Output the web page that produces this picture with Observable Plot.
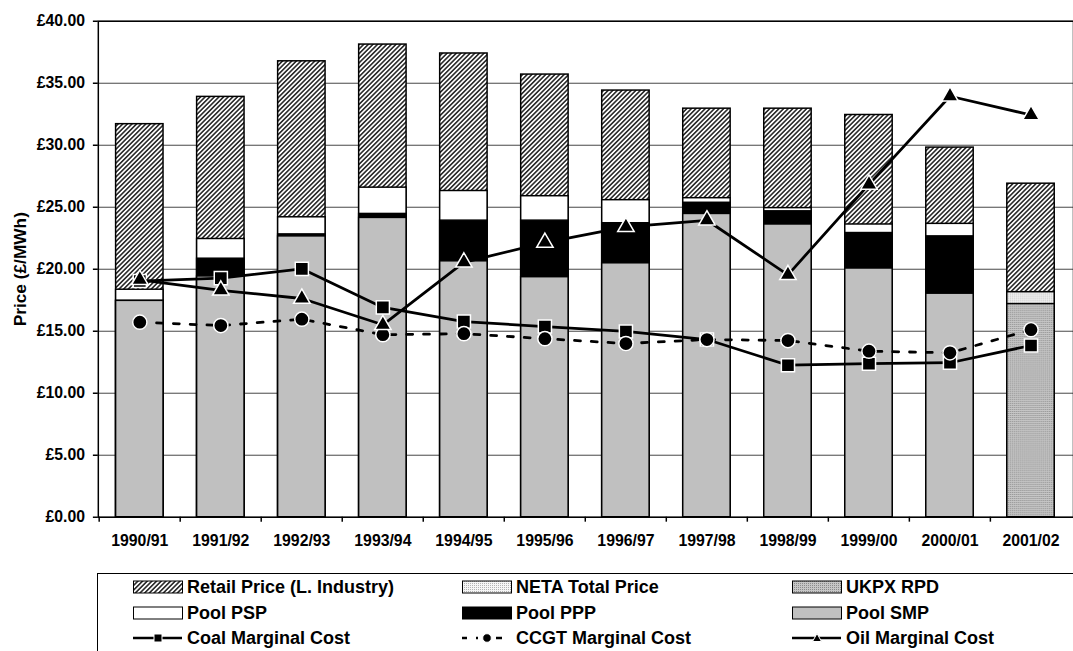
<!DOCTYPE html>
<html><head><meta charset="utf-8">
<script src="https://cdn.jsdelivr.net/npm/d3@7"></script>
<script src="https://cdn.jsdelivr.net/npm/@observablehq/plot@0.6"></script>
<style>
html,body{margin:0;padding:0;background:#fff;overflow:hidden;width:1073px;height:651px}
#wrap{position:relative;width:1073px;height:651px;overflow:hidden}
#chart{position:absolute;left:0;top:0}
#legendBox{position:absolute;left:97px;top:573px;width:1100px;height:120px;border:1.5px solid #000;box-sizing:border-box}
.sw{position:absolute}
.lt{position:absolute;font:bold 18px "Liberation Sans",Arial,sans-serif;line-height:20px;white-space:nowrap;color:#000}
</style></head><body>
<div id="wrap"><div id="chart"></div><div id="legendBox"></div></div>
<script>
const years = ["1990/91","1991/92","1992/93","1993/94","1994/95","1995/96","1996/97","1997/98","1998/99","1999/00","2000/01","2001/02"];
const retail = [31.70, 33.90, 36.77, 38.12, 37.40, 35.70, 34.41, 32.95, 32.95, 32.44, 29.81, 26.90];
const poolPSP = [18.35, 22.44, 24.19, 26.58, 26.31, 25.89, 25.57, 25.73, 24.93, 23.61, 23.66, null];
const poolPPP = [17.45, 20.85, 22.81, 24.46, 23.92, 23.92, 23.71, 25.36, 24.67, 22.92, 22.65, null];
const poolSMP = [17.45, 19.42, 22.65, 24.14, 20.64, 19.36, 20.48, 24.46, 23.61, 20.06, 18.03, null];
const netaTotal = [null, null, null, null, null, null, null, null, null, null, null, 18.15];
const ukpxRPD = [null, null, null, null, null, null, null, null, null, null, null, 17.19];
const coalMC = [19.05, 19.28, 20.03, 16.92, 15.78, 15.38, 14.98, 14.33, 12.26, 12.38, 12.46, 13.85];
const ccgtMC = [15.73, 15.46, 15.97, 14.72, 14.80, 14.40, 14.01, 14.33, 14.25, 13.39, 13.26, 15.12];
const oilMC = [19.15, 18.30, 17.64, 15.52, 20.56, 22.15, 23.42, 23.95, 19.55, 26.84, 33.95, 32.44];
const yTicks = [0, 5, 10, 15, 20, 25, 30, 35, 40];
const legendItems = [
  ["Retail Price (L. Industry)", "NETA Total Price", "UKPX RPD"],
  ["Pool PSP", "Pool PPP", "Pool SMP"],
  ["Coal Marginal Cost", "CCGT Marginal Cost", "Oil Marginal Cost"]
];

const rows = years.map((year, i) => ({
  year, retail: retail[i], psp: poolPSP[i], ppp: poolPPP[i], smp: poolSMP[i],
  neta: netaTotal[i], ukpx: ukpxRPD[i], coal: coalMC[i], ccgt: ccgtMC[i], oil: oilMC[i]
}));

const NS = "http://www.w3.org/2000/svg";
const patternDefs = `
<pattern id="pHatch" patternUnits="userSpaceOnUse" width="3.3" height="3.3" patternTransform="rotate(45)">
  <rect width="3.3" height="3.3" fill="#fff"/><line x1="1.65" y1="0" x2="1.65" y2="3.3" stroke="#000" stroke-width="1.35"/>
</pattern>
<pattern id="pNeta" patternUnits="userSpaceOnUse" width="2" height="2">
  <rect width="2" height="2" fill="#f5f5f5"/><rect x="0" y="0" width="1" height="1" fill="#b2b2b2"/>
</pattern>
<pattern id="pUkpx" patternUnits="userSpaceOnUse" width="2" height="2">
  <rect width="2" height="2" fill="#c6c6c6"/><rect x="0" y="0" width="1" height="1" fill="#8a8a8a"/>
</pattern>`;
const defsMark = () => { const g = document.createElementNS(NS, "defs"); g.innerHTML = patternDefs; return g; };

const step = 987 / 12;
const font = "Liberation Sans, Arial, sans-serif";
const bar = (key, fill) => Plot.barY(rows.filter(d => d[key] != null), {x: "year", y: key, fill, stroke: "#000", strokeWidth: 1.5});

const chart = Plot.plot({
  width: 1086, height: 565, marginLeft: 99, marginRight: 0, marginTop: 21, marginBottom: 42,
  style: {fontFamily: font, fontWeight: "bold", color: "#000", background: "#fff", overflow: "visible"},
  x: {domain: years, type: "band", paddingInner: 0.41, paddingOuter: 0.205, label: null},
  y: {domain: [0, 40], label: null},
  marks: [
    defsMark,
    Plot.gridY(yTicks, {stroke: "#444", strokeOpacity: 1, strokeWidth: 1}),
    bar("retail", "url(#pHatch)"),
    bar("psp", "#fff"),
    bar("ppp", "#000"),
    bar("smp", "#c0c0c0"),
    bar("neta", "url(#pNeta)"),
    bar("ukpx", "url(#pUkpx)"),
    Plot.frame({stroke: "#000", strokeWidth: 1.5}),
    Plot.axisY(yTicks, {tickSize: 5, tickPadding: 8.5, tickFormat: d => "£" + d.toFixed(2), fontSize: 16, fontWeight: "bold", label: null, strokeWidth: 1.5}),
    Plot.axisX({tickSize: 0, tickPadding: 18, fontSize: 16, fontWeight: "bold", label: null}),
    Plot.axisX({tickSize: 5, tickFormat: () => "", dx: -step / 2, label: null, strokeWidth: 1.5}),
    Plot.text(["Price (£/MWh)"], {frameAnchor: "left", text: d => d, rotate: -90, dx: -79, textAnchor: "middle", lineAnchor: "middle", fontSize: 17.5, fontWeight: "bold"}),
    Plot.lineY(rows, {x: "year", y: "coal", stroke: "#000", strokeWidth: 2.8}),
    Plot.dot(rows, {x: "year", y: "coal", symbol: "square", r: 7.5, fill: "#000", stroke: "#fff", strokeWidth: 1.5}),
    Plot.lineY(rows, {x: "year", y: "ccgt", stroke: "#000", strokeWidth: 2.8, strokeDasharray: "6,11"}),
    Plot.dot(rows, {x: "year", y: "ccgt", symbol: "circle", r: 7.2, fill: "#000", stroke: "#fff", strokeWidth: 1.5}),
    Plot.lineY(rows, {x: "year", y: "oil", stroke: "#000", strokeWidth: 2.8}),
    Plot.dot(rows, {x: "year", y: "oil", symbol: "triangle", r: 6.2, fill: "#000", stroke: "#fff", strokeWidth: 1.5})
  ]
});
document.getElementById("chart").appendChild(chart);

// Legend
const wrap = document.getElementById("wrap");
const swX = [133, 462, 792], txX = [187, 516, 846], rowY = [587, 612.5, 638];
const swatchSvg = (name) => {
  const s = (inner) => `<svg width="52" height="16" viewBox="0 0 52 16" xmlns="${NS}">${inner}</svg>`;
  const rect = (fill) => s(`<rect x="0.5" y="2" width="49" height="12" fill="${fill}" stroke="#000" stroke-width="1"/>`);
  switch (name) {
    case "Retail Price (L. Industry)": return rect("url(#pHatch)");
    case "NETA Total Price": return rect("url(#pNeta)");
    case "UKPX RPD": return rect("url(#pUkpx)");
    case "Pool PSP": return rect("#fff");
    case "Pool PPP": return rect("#000");
    case "Pool SMP": return rect("#c0c0c0");
    case "Coal Marginal Cost": return s(`<line x1="0" y1="8" x2="49" y2="8" stroke="#000" stroke-width="2.5"/><rect x="21" y="4" width="8" height="8" fill="#000" stroke="#fff" stroke-width="1"/>`);
    case "CCGT Marginal Cost": return s(`<line x1="0" y1="8" x2="5" y2="8" stroke="#000" stroke-width="2.5"/><line x1="14" y1="8" x2="16" y2="8" stroke="#000" stroke-width="2.5"/><line x1="34" y1="8" x2="40" y2="8" stroke="#000" stroke-width="2.5"/><circle cx="25" cy="8" r="4.3" fill="#000" stroke="#fff" stroke-width="1"/>`);
    case "Oil Marginal Cost": return s(`<line x1="0" y1="8" x2="49" y2="8" stroke="#000" stroke-width="2.5"/><path d="M25,3.5L29.5,11.5L20.5,11.5Z" fill="#000" stroke="#fff" stroke-width="1"/>`);
  }
};
legendItems.forEach((row, r) => row.forEach((name, c) => {
  const sw = document.createElement("div");
  sw.className = "sw";
  sw.style.left = swX[c] + "px";
  sw.style.top = (rowY[r] - 8) + "px";
  sw.innerHTML = swatchSvg(name);
  wrap.appendChild(sw);
  const t = document.createElement("div");
  t.className = "lt";
  t.style.left = txX[c] + "px";
  t.style.top = (rowY[r] - 10) + "px";
  t.textContent = name;
  wrap.appendChild(t);
}));
</script></body></html>
